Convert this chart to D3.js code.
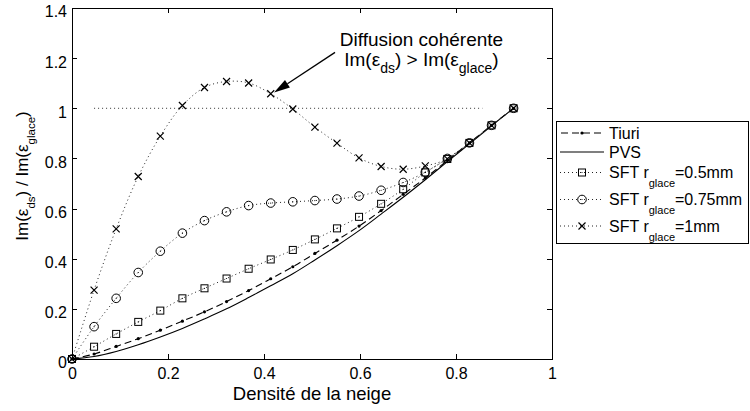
<!DOCTYPE html>
<html><head><meta charset="utf-8">
<script src="https://cdn.jsdelivr.net/npm/d3@7"></script>
<style>
body{margin:0;background:#fff}
svg{display:block}
text{font-family:"Liberation Sans",Arial,Helvetica,sans-serif;fill:#000}
</style></head>
<body><svg id="c" width="750" height="411"></svg>
<script>
// ---- data ----
const density = [0,0.046,0.092,0.138,0.184,0.23,0.276,0.322,0.368,0.414,0.46,0.506,0.552,0.598,0.644,0.69,0.736,0.782,0.828,0.874,0.92];
const tiuri  = [0,0.020,0.050,0.081,0.115,0.151,0.188,0.229,0.273,0.320,0.368,0.421,0.474,0.530,0.592,0.657,0.722,0.792,0.862,0.932,1.0];
const pvs    = [0,0.010,0.030,0.057,0.088,0.122,0.160,0.200,0.245,0.292,0.340,0.395,0.452,0.512,0.578,0.645,0.715,0.787,0.858,0.930,1.0];
const sft05  = [0,0.049,0.100,0.148,0.193,0.242,0.282,0.321,0.360,0.397,0.435,0.477,0.521,0.567,0.619,0.677,0.744,0.798,0.862,0.932,1.0];
const sft075 = [0,0.129,0.242,0.345,0.430,0.502,0.552,0.587,0.612,0.622,0.627,0.632,0.638,0.650,0.673,0.704,0.745,0.800,0.862,0.932,1.0];
const sft1   = [0,0.275,0.519,0.728,0.889,1.011,1.083,1.107,1.101,1.058,0.997,0.925,0.861,0.802,0.768,0.757,0.770,0.798,0.862,0.932,1.0];
const refLineX = [0.046,0.855];
const refLineY = 1;
const xTicks = [0,0.2,0.4,0.6,0.8,1];
const xTickLabels = ["0","0.2","0.4","0.6","0.8","1"];
const yTicks = [0,0.2,0.4,0.6,0.8,1,1.2,1.4];
const yTickLabels = ["0","0.2","0.4","0.6","0.8","1","1.2","1.4"];
const xLabel = "Densité de la neige";
const legendNames = ["Tiuri","PVS","SFT r|glace|=0.5mm","SFT r|glace|=0.75mm","SFT r|glace|=1mm"];
// annotation (data coordinates)
const annotText1 = "Diffusion cohérente";
const annotPos = {x:0.728, y1:1.247, y2:1.167};
const arrowFrom = {x:0.548, y:1.223};
const arrowTo = {x:0.421, y:1.063};

// ---- layout ----
const svg = d3.select("#c");
const x = d3.scaleLinear([0,1],[72,552]);
const y = d3.scaleLinear([0,1.4],[359,8]);
const FS = 16;

function rich(sel, parts, mainSize, subSize, shift){
  let pend = 0;
  parts.forEach(p=>{
    const target = p.sub ? shift : 0;
    sel.append("tspan").attr("font-size", p.sub ? subSize : mainSize).attr("dy", target - pend).text(p.t);
    pend = target;
  });
}
function parseRich(s){
  return s.split("|").map((t,i)=>({t, sub: i%2===1}));
}

// frame
svg.append("rect").attr("x",x(0)).attr("y",y(1.4)).attr("width",x(1)-x(0)).attr("height",y(0)-y(1.4))
  .attr("fill","none").attr("stroke","#000").attr("stroke-width",1).attr("shape-rendering","crispEdges");

// axes
const gx = svg.append("g").attr("transform",`translate(0,${y(0)})`)
  .call(d3.axisBottom(x).tickValues(xTicks).tickSize(-5).tickPadding(9).tickFormat((d,i)=>xTickLabels[i]));
const gy = svg.append("g").attr("transform",`translate(${x(0)},0)`)
  .call(d3.axisLeft(y).tickValues(yTicks).tickSize(-5).tickPadding(5).tickFormat((d,i)=>yTickLabels[i]));
const gt = svg.append("g").attr("transform",`translate(0,${y(1.4)})`)
  .call(d3.axisTop(x).tickValues(xTicks).tickSize(-5).tickFormat(""));
const gr = svg.append("g").attr("transform",`translate(${x(1)},0)`)
  .call(d3.axisRight(y).tickValues(yTicks).tickSize(-5).tickFormat(""));
[gx,gy,gt,gr].forEach(g=>{
  g.select(".domain").remove();
  g.selectAll("line").attr("stroke","#000").attr("shape-rendering","crispEdges");
  g.selectAll("text").attr("font-size",FS).attr("font-family",null);
});
gy.selectAll("text").attr("dy","0.56em");
gt.selectAll("text").remove();
gr.selectAll("text").remove();

// axis labels
svg.append("text").attr("x",(x(0)+x(1))/2).attr("y",400).attr("text-anchor","middle").attr("font-size",18.5).text(xLabel);
const yl = svg.append("text").attr("text-anchor","middle")
  .attr("transform",`translate(28,176) rotate(-90)`);
rich(yl, [{t:"Im(ε"},{t:"ds",sub:true},{t:") / Im(ε"},{t:"glace",sub:true},{t:")"}], 17, 11.5, 7);

// lines
const pts = arr => arr.map((v,i)=>[density[i],v]);
const lineGen = d3.line().x(d=>x(d[0])).y(d=>y(d[1])).curve(d3.curveCatmullRom.alpha(0.5));
const dotted = "1,3";
svg.append("path").attr("d",lineGen(pts(pvs))).attr("fill","none").attr("stroke","#000").attr("stroke-width",1.1);
svg.append("path").attr("d",lineGen(pts(tiuri))).attr("fill","none").attr("stroke","#000").attr("stroke-width",1.1).attr("stroke-dasharray","7,4");
[sft05,sft075,sft1].forEach(s=>{
  svg.append("path").attr("d",lineGen(pts(s))).attr("fill","none").attr("stroke","#222").attr("stroke-width",1).attr("stroke-dasharray",dotted);
});
// reference dotted line y=1
svg.append("line").attr("x1",x(refLineX[0])).attr("x2",x(refLineX[1])).attr("y1",y(refLineY)).attr("y2",y(refLineY))
  .attr("stroke","#333").attr("stroke-width",1).attr("stroke-dasharray",dotted);

// markers
function markSquare(g,cx,cy){
  g.append("rect").attr("x",cx-3.5).attr("y",cy-3.5).attr("width",7).attr("height",7).attr("fill","none").attr("stroke","#000").attr("stroke-width",1);
  g.append("circle").attr("cx",cx).attr("cy",cy).attr("r",0.6).attr("fill","#000");
}
function markCircle(g,cx,cy){
  g.append("circle").attr("cx",cx).attr("cy",cy).attr("r",4.3).attr("fill","none").attr("stroke","#000").attr("stroke-width",1);
  g.append("circle").attr("cx",cx).attr("cy",cy).attr("r",0.6).attr("fill","#000");
}
function markX(g,cx,cy){
  g.append("path").attr("d",`M${cx-3.5},${cy-3.5}L${cx+3.5},${cy+3.5}M${cx-3.5},${cy+3.5}L${cx+3.5},${cy-3.5}`).attr("stroke","#000").attr("stroke-width",1.2);
}
function markDot(g,cx,cy){
  g.append("circle").attr("cx",cx).attr("cy",cy).attr("r",1.6).attr("fill","#000");
}
const mg = svg.append("g");
density.forEach((d,i)=>{
  markDot(mg,x(d),y(tiuri[i]));
  markSquare(mg,x(d),y(sft05[i]));
  markCircle(mg,x(d),y(sft075[i]));
  markX(mg,x(d),y(sft1[i]));
});

// annotation
svg.append("text").attr("x",x(annotPos.x)).attr("y",y(annotPos.y1)).attr("text-anchor","middle").attr("font-size",19).text(annotText1);
const a2 = svg.append("text").attr("x",x(annotPos.x)).attr("y",y(annotPos.y2)).attr("text-anchor","middle");
rich(a2, [{t:"Im(ε"},{t:"ds",sub:true},{t:") > Im(ε"},{t:"glace",sub:true},{t:")"}], 19, 14, 7);
{
  const x0=x(arrowFrom.x), y0=y(arrowFrom.y), x1=x(arrowTo.x), y1=y(arrowTo.y);
  const ang=Math.atan2(y1-y0,x1-x0), L=16, W=4.5;
  const bx=x1-L*Math.cos(ang), by=y1-L*Math.sin(ang);
  svg.append("line").attr("x1",x0).attr("y1",y0).attr("x2",bx).attr("y2",by).attr("stroke","#000").attr("stroke-width",1.3);
  svg.append("path").attr("d",`M${x1},${y1}L${bx+W*Math.sin(ang)},${by-W*Math.cos(ang)}L${bx-W*Math.sin(ang)},${by+W*Math.cos(ang)}Z`).attr("fill","#000");
}

// legend
const lg = svg.append("g");
lg.append("rect").attr("x",556.5).attr("y",121.5).attr("width",192).attr("height",122).attr("fill","#fff").attr("stroke","#000").attr("stroke-width",1);
const rowY = [133,152,172.5,199.5,226];
const lx0=560, lx1=604, lxm=(lx0+lx1)/2, ltx=609;
// Tiuri
lg.append("line").attr("x1",lx0).attr("x2",lx1).attr("y1",rowY[0]).attr("y2",rowY[0]).attr("stroke","#000").attr("stroke-width",1.1).attr("stroke-dasharray","7,4").attr("stroke-dashoffset",-1);
markDot(lg,lxm,rowY[0]);
// PVS
lg.append("line").attr("x1",lx0).attr("x2",lx1).attr("y1",rowY[1]).attr("y2",rowY[1]).attr("stroke","#000").attr("stroke-width",1.1);
[2,3,4].forEach(k=>{
  lg.append("line").attr("x1",lx0).attr("x2",lx1).attr("y1",rowY[k]).attr("y2",rowY[k]).attr("stroke","#222").attr("stroke-dasharray",dotted);
});
markSquare(lg,lxm,rowY[2]); markCircle(lg,lxm,rowY[3]); markX(lg,lxm,rowY[4]);
legendNames.forEach((n,k)=>{
  const t = lg.append("text").attr("x",ltx).attr("y",rowY[k]+5.5);
  rich(t, parseRich(n), 16, 11, 9);
});
</script></body></html>
